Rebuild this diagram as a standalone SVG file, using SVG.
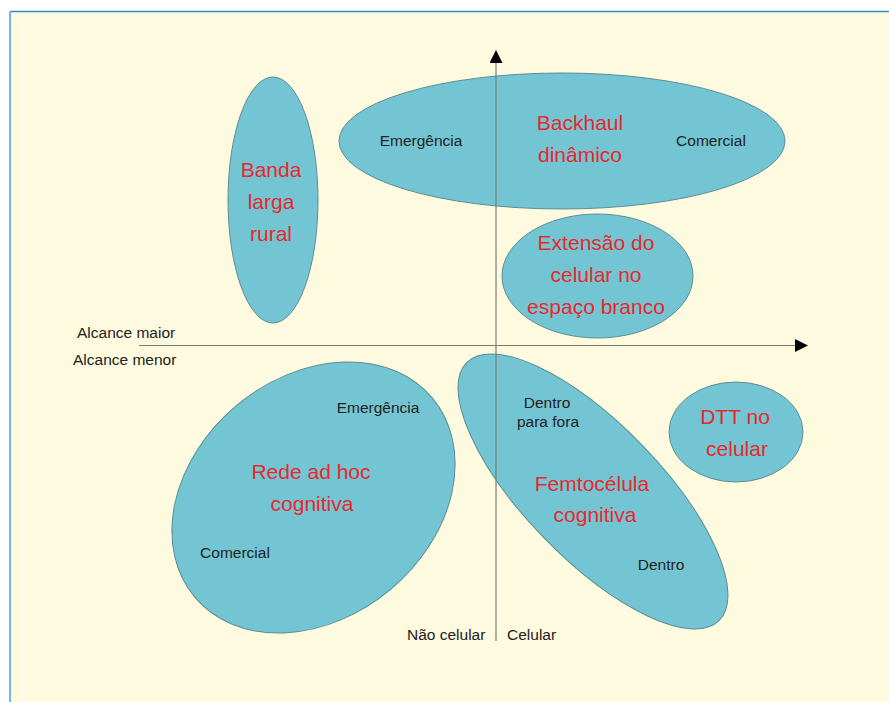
<svg xmlns="http://www.w3.org/2000/svg" width="889" height="702" viewBox="0 0 889 702">
<defs>
<style>
.bub{fill:#74C5D3;stroke:#5A8E94;stroke-width:1}
.axis{stroke:#7A7A72;stroke-width:1.2;fill:none}
.red{font-family:"Liberation Sans",Arial,sans-serif;font-size:21px;fill:#E8282B;text-anchor:middle}
.blk{font-family:"Liberation Sans",Arial,sans-serif;font-size:15.5px;fill:#222;text-anchor:middle}
.lbl{font-family:"Liberation Sans",Arial,sans-serif;font-size:15.5px;fill:#222}
</style>
<marker id="arr" viewBox="0 0 13 13" refX="12" refY="6.5" markerWidth="13" markerHeight="13" markerUnits="userSpaceOnUse" orient="auto">
<path d="M0,0 L13,6.5 L0,13 Z" fill="#000"/>
</marker>
</defs>
<rect x="0" y="0" width="889" height="702" fill="#FFFFFF"/>
<rect x="10" y="11" width="879" height="691" fill="#FEFADF"/>
<line x1="10" y1="11.5" x2="889" y2="11.5" stroke="#2E8BC9" stroke-width="1.5"/>
<line x1="10" y1="11" x2="10" y2="702" stroke="#6CB8E6" stroke-width="2"/>
<line x1="22" y1="22" x2="22" y2="702" stroke="#FFFFFF" stroke-width="1" opacity="0.8"/>

<g id="banda-larga-rural">
<ellipse class="bub" cx="273" cy="200" rx="45" ry="123"/>
</g>
<g id="backhaul-dinamico">
<ellipse class="bub" cx="562" cy="141" rx="223" ry="68"/>
</g>
<g id="extensao-celular">
<ellipse class="bub" cx="597.5" cy="276" rx="95.5" ry="62"/>
</g>
<g id="dtt-celular">
<ellipse class="bub" cx="736" cy="432" rx="67" ry="50"/>
</g>
<g id="rede-ad-hoc">
<ellipse class="bub" cx="0" cy="0" rx="155" ry="120" transform="translate(313.5,497.5) rotate(-40)"/>
</g>
<g id="femtocelula">
<ellipse class="bub" cx="0" cy="0" rx="180.5" ry="67.5" transform="translate(593,491.5) rotate(45.7)"/>
</g>

<g id="connectors">
<line class="axis" x1="139" y1="345.5" x2="807" y2="345.5" marker-end="url(#arr)"/>
<line class="axis" x1="496" y1="641" x2="496" y2="51" marker-end="url(#arr)"/>
</g>

<g id="labels">
<text class="red" x="271" y="177">Banda</text>
<text class="red" x="271" y="209">larga</text>
<text class="red" x="271" y="241">rural</text>
<text class="red" x="580" y="130">Backhaul</text>
<text class="red" x="580" y="162">dinâmico</text>
<text class="blk" x="421" y="146">Emergência</text>
<text class="blk" x="711" y="146">Comercial</text>
<text class="red" x="596" y="250">Extensão do</text>
<text class="red" x="596" y="282">celular no</text>
<text class="red" x="596" y="314">espaço branco</text>
<text class="red" x="735" y="424">DTT no</text>
<text class="red" x="737" y="456">celular</text>
<text class="blk" x="547" y="408">Dentro</text>
<text class="blk" x="548" y="427">para fora</text>
<text class="red" x="592" y="491">Femtocélula</text>
<text class="red" x="595" y="522">cognitiva</text>
<text class="blk" x="661" y="570">Dentro</text>
<text class="red" x="311" y="479">Rede ad hoc</text>
<text class="red" x="312" y="511">cognitiva</text>
<text class="blk" x="378" y="413">Emergência</text>
<text class="blk" x="235" y="558">Comercial</text>
<text class="lbl" x="77" y="338">Alcance maior</text>
<text class="lbl" x="73" y="365">Alcance menor</text>
<text class="lbl" x="407" y="640">Não celular</text>
<text class="lbl" x="507" y="640">Celular</text>
</g>
</svg>
